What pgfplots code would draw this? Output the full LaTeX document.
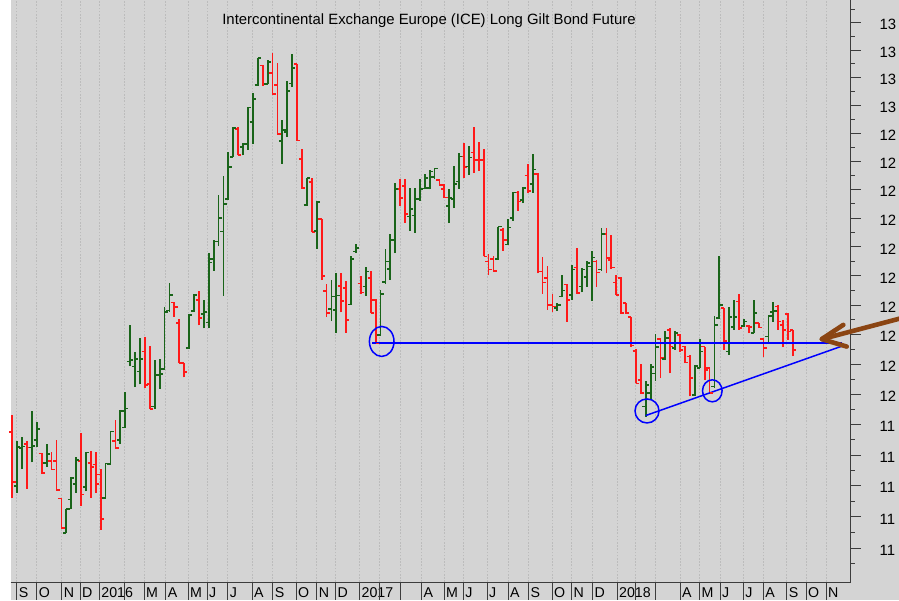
\documentclass[border=0pt]{standalone}
\usepackage{pgfplots}
\pgfplotsset{compat=1.18}
\usepackage{pgfplotstable}
\usepackage{fontspec}
\setmainfont{Liberation Sans}
\definecolor{bgc}{RGB}{212,212,212}
\definecolor{gridc}{RGB}{188,188,188}
\definecolor{upc}{RGB}{25,100,25}
\definecolor{dnc}{RGB}{255,25,25}
\definecolor{axc}{RGB}{60,60,60}
\definecolor{arrc}{RGB}{139,69,19}
\definecolor{lnc}{RGB}{0,0,255}
\pgfdeclareplotmark{ctick}{\pgfpathmoveto{\pgfqpoint{0pt}{0pt}}\pgfpathlineto{\pgfqpoint{3.2pt}{0pt}}\pgfusepathqstroke}
\pgfdeclareplotmark{otick}{\pgfpathmoveto{\pgfqpoint{-3.2pt}{0pt}}\pgfpathlineto{\pgfqpoint{0pt}{0pt}}\pgfusepathqstroke}

% weekly bars, red (close below open)
\pgfplotstableread{
i O H L C
1 118.75 119.32 116.62 117.13
4 118.36 118.46 116.90 118.25
7 118.05 118.07 117.39 117.41
9 117.81 118.10 117.52 117.53
10 117.81 118.51 116.86 116.87
11 116.59 116.61 115.63 115.64
15 117.81 118.72 116.35 116.72
17 117.74 118.14 116.62 117.62
18 117.69 118.10 116.78 117.06
19 117.37 117.54 115.58 115.94
22 118.46 119.16 118.20 118.23
28 121.43 121.93 120.22 120.32
29 120.35 121.61 119.51 119.51
34 123.09 123.11 122.61 122.93
35 122.39 122.53 121.04 121.04
36 121.04 121.06 120.57 120.75
39 123.18 123.49 122.32 122.56
47 129.14 129.21 128.21 128.22
52 131.44 131.45 130.70 130.75
54 131.16 131.90 130.37 130.40
55 130.72 131.54 128.96 128.97
59 131.48 131.49 128.72 128.73
60 128.07 128.43 127.03 127.05
62 127.26 127.41 125.51 125.52
64 125.96 125.97 123.86 123.99
65 123.49 123.72 122.61 122.73
68 123.66 124.09 122.75 123.15
69 123.58 123.83 122.07 122.50
72 123.74 124.00 123.38 123.43
74 123.92 124.17 122.72 122.73
75 123.18 123.20 121.71 121.71
80 127.01 127.36 126.43 126.70
81 127.13 127.36 125.84 126.14
88 127.34 127.36 127.13 127.16
89 127.01 127.20 126.70 126.72
93 128.16 128.64 127.40 127.79
95 128.30 129.23 127.58 128.05
96 128.05 128.68 127.66 128.02
97 128.05 128.43 124.67 124.67
98 124.49 124.76 124.03 124.21
99 124.59 124.69 124.15 124.17
101 125.59 125.64 124.87 125.24
104 126.89 126.95 126.25 126.58
106 127.49 127.89 126.87 126.96
108 127.55 127.58 124.09 124.15
109 124.15 124.64 123.39 123.77
110 123.92 124.34 122.84 123.01
111 123.00 123.38 122.75 122.95
114 123.70 123.72 122.44 123.18
116 124.29 124.95 123.39 123.41
120 124.49 124.55 123.63 124.11
122 125.44 125.67 124.09 124.61
123 124.55 125.42 124.23 124.29
124 123.77 124.04 123.34 123.35
125 123.94 123.96 122.71 122.73
126 123.07 123.09 122.71 122.73
127 122.59 122.61 121.60 121.63
128 121.45 121.52 120.37 120.37
129 120.48 121.02 120.02 120.04
133 121.86 121.88 120.54 121.21
135 122.16 122.22 120.70 121.60
137 121.99 122.02 121.43 121.49
138 121.60 121.62 121.04 121.06
139 121.26 121.32 119.93 120.54
142 121.60 121.60 120.48 120.82
143 120.87 120.89 120.02 120.04
146 122.90 122.92 121.49 121.79
149 123.12 123.38 122.16 122.22
151 122.30 122.33 122.05 122.25
153 122.39 122.39 122.22 122.24
154 121.86 121.86 121.24 121.55
157 122.95 122.99 122.16 122.44
158 122.33 122.50 121.58 122.16
159 122.71 122.73 121.82 122.11
160 122.16 122.16 121.28 121.49
}\dn

% weekly bars, green (close above open)
\pgfplotstableread{
i O H L C
2 117.00 118.47 116.78 118.26
3 118.23 118.59 117.54 118.28
5 118.25 119.45 117.76 118.31
6 118.50 119.09 118.25 118.86
8 117.74 118.37 117.63 118.04
12 115.49 116.26 115.48 116.25
13 116.56 117.28 116.24 117.25
14 117.06 117.93 116.78 117.84
16 116.96 118.10 116.82 118.08
20 116.61 117.75 116.59 117.72
21 117.71 118.78 117.68 118.77
23 118.50 119.49 118.37 119.46
24 118.90 120.07 118.89 119.53
25 121.09 122.31 120.94 121.15
26 120.93 121.43 120.24 121.18
27 120.76 121.88 120.33 121.18
30 119.60 121.15 119.51 120.63
31 120.65 121.19 120.19 120.68
32 120.85 122.93 120.84 122.76
33 122.82 123.75 122.78 123.35
37 121.56 122.69 121.53 122.67
38 122.80 123.38 122.78 123.35
40 122.71 123.18 122.21 122.78
41 122.41 124.78 122.21 124.46
42 124.58 125.24 124.18 125.18
43 125.18 126.80 125.03 126.00
44 125.53 127.46 123.33 126.50
45 126.66 128.33 126.64 127.79
46 128.15 129.21 128.14 129.19
48 128.50 128.64 128.21 128.61
49 128.61 129.92 128.40 129.91
50 129.39 130.43 128.60 130.21
51 130.72 131.72 130.70 131.71
53 130.76 131.63 130.75 131.55
56 128.72 129.47 127.90 129.11
57 129.04 130.86 128.87 130.52
58 130.79 131.85 130.65 131.35
61 126.45 127.41 126.43 127.40
63 125.56 126.59 124.94 126.57
66 122.88 123.86 122.46 123.29
67 122.84 124.11 122.07 123.32
70 123.03 124.69 123.01 124.58
71 124.84 125.10 124.80 124.96
73 123.63 124.30 123.32 124.15
76 121.99 123.52 121.97 123.39
77 123.80 124.94 123.72 124.49
78 124.23 125.45 123.86 125.24
79 125.24 127.22 124.78 127.01
82 126.05 127.07 125.56 126.32
83 126.09 127.05 125.48 126.66
84 126.66 127.36 126.61 127.01
85 127.03 127.54 127.01 127.40
86 127.05 127.69 127.01 127.63
87 127.45 127.75 127.36 127.73
90 126.43 127.01 125.82 126.70
91 126.66 127.83 126.35 127.20
92 127.28 128.28 127.02 128.16
94 127.81 128.54 127.52 128.13
100 124.58 125.70 124.55 125.70
102 125.08 125.97 125.06 125.67
103 126.01 126.93 125.91 126.89
105 126.64 127.10 126.52 127.05
107 127.20 128.25 126.89 127.70
112 122.90 123.07 122.81 123.01
113 123.29 124.03 123.27 123.50
115 123.35 124.37 123.18 124.21
117 123.63 124.28 123.43 124.21
118 123.96 124.52 123.63 124.44
119 124.32 124.86 123.14 124.63
121 124.21 125.67 124.18 125.44
130 119.60 120.45 119.27 120.32
131 120.04 121.02 119.82 120.91
132 120.70 122.02 120.45 121.58
134 121.19 122.14 121.15 121.88
136 121.55 122.14 121.49 122.05
140 119.97 120.98 119.95 120.95
141 120.87 121.85 120.87 121.43
144 120.26 122.64 120.21 122.33
145 122.56 124.69 122.53 123.01
147 121.43 122.95 121.32 122.59
148 122.27 123.18 122.16 122.59
150 122.30 122.54 122.25 122.44
152 122.05 123.18 122.05 122.73
155 121.94 122.64 121.71 122.64
156 122.78 123.10 122.44 122.80
}\up

\pgfplotstablegetrowsof{\dn}\pgfmathtruncatemacro\ndn{\pgfplotsretval-1}
\pgfplotstablegetrowsof{\up}\pgfmathtruncatemacro\nup{\pgfplotsretval-1}

\newcommand{\lfont}{\fontsize{14.9pt}{17pt}\selectfont}
\newcommand{\mfont}{\fontsize{14.2pt}{16pt}\selectfont}
\begin{document}
\begin{tikzpicture}
\path[use as bounding box] (-10.5pt,-18pt) rectangle (888.5pt,582pt);
\fill[bgc] (0.5pt,-18pt) rectangle (888.5pt,582pt);
\fill[white] (-10.5pt,-18pt) rectangle (0.5pt,582pt);
\begin{axis}[
  scale only axis, width=840pt, height=582pt,
  xmin=10.5, xmax=850.5, ymin=113.93, ymax=133.84,
  y coord trafo/.code={\pgfmathparse{ln(#1/100)}},
  y coord inv trafo/.code={\pgfmathparse{exp(#1)*100}},
  clip=false,
  axis x line*=bottom, axis y line*=right,
  x axis line style={draw=axc, line width=1pt, -},
  y axis line style={draw=axc, line width=1pt, -},
  xtick={16.7,36.7,61.7,80,99.3,124,144,165.7,188,207,227.7,252,272.7,296,316.7,335.5,359.5,379.5,400,421.5,444,463.3,487,508,528.5,552,571.5,592.5,617,635.5,655.7,680,699.5,720,743.3,763.3,786.7,806,826},
  xticklabels={}, xtick style={draw=none},
  xmajorgrids, major grid style={draw=gridc, line width=0.9pt, dash pattern=on 1.6pt off 1.6pt},
  ytick={115,116,...,133},
  yticklabels={},
  minor ytick={114.5,115.5,...,133.5},
  ytick style={draw=axc, line width=1pt},
  minor tick style={draw=axc, line width=1pt},
  tick align=outside, major tick length=10pt, minor tick length=4pt,
]
% high-low lines
\pgfplotsinvokeforeach{0,...,\ndn}{
  \pgfplotstablegetelem{#1}{i}\of\dn \pgfmathsetmacro\bx{12.3+4.91*(\pgfplotsretval-1)}
  \pgfplotstablegetelem{#1}{L}\of\dn \let\bl\pgfplotsretval
  \pgfplotstablegetelem{#1}{H}\of\dn \let\bh\pgfplotsretval
  \edef\cmd{\noexpand\addplot[dnc, line width=1.8pt, forget plot, mark=none] coordinates {(\bx,\bl) (\bx,\bh)};}
  \cmd
}
\pgfplotsinvokeforeach{0,...,\nup}{
  \pgfplotstablegetelem{#1}{i}\of\up \pgfmathsetmacro\bx{12.3+4.91*(\pgfplotsretval-1)}
  \pgfplotstablegetelem{#1}{L}\of\up \let\bl\pgfplotsretval
  \pgfplotstablegetelem{#1}{H}\of\up \let\bh\pgfplotsretval
  \edef\cmd{\noexpand\addplot[upc, line width=1.8pt, forget plot, mark=none] coordinates {(\bx,\bl) (\bx,\bh)};}
  \cmd
}
% open / close ticks
\addplot[dnc, only marks, mark=ctick, mark options={line width=1.6pt}]
  table[x expr={12.3+4.91*(\thisrow{i}-1)}, y=C] {\dn};
\addplot[dnc, only marks, mark=otick, mark options={line width=1.6pt}]
  table[x expr={12.3+4.91*(\thisrow{i}-1)}, y=O] {\dn};
\addplot[upc, only marks, mark=ctick, mark options={line width=1.6pt}]
  table[x expr={12.3+4.91*(\thisrow{i}-1)}, y=C] {\up};
\addplot[upc, only marks, mark=otick, mark options={line width=1.6pt}]
  table[x expr={12.3+4.91*(\thisrow{i}-1)}, y=O] {\up};

% right-hand price labels (cut by the chart edge, as in the source)
\pgfplotsinvokeforeach{115,116,117,118,119}{\node[anchor=west, inner sep=0pt, font=\lfont, xshift=29pt, yshift=-2pt] at (axis cs:850.5,#1) {11};}
\pgfplotsinvokeforeach{120,121,122,123,124,125,126,127,128,129}{\node[anchor=west, inner sep=0pt, font=\lfont, xshift=29pt, yshift=-2pt] at (axis cs:850.5,#1) {12};}
\pgfplotsinvokeforeach{130,131,132,133}{\node[anchor=west, inner sep=0pt, font=\lfont, xshift=29pt, yshift=-2pt] at (axis cs:850.5,#1) {13};}

\node[font=\lfont] at (axis cs:429,133.07) {Intercontinental Exchange Europe (ICE) Long Gilt Bond Future};

\draw[draw=lnc, line width=1.8pt] (axis cs:372,121.71) -- (axis cs:842,121.71);
\draw[draw=lnc, line width=1.5pt] (axis cs:645.7,119.30) -- (axis cs:843.3,121.63);
\draw[draw=lnc, line width=1.5pt] (axis cs:381.7,121.77) ellipse [x radius=12.3pt, y radius=15pt];
\draw[draw=lnc, line width=1.5pt] (axis cs:647,119.45) ellipse [x radius=12pt, y radius=12pt];
\draw[draw=lnc, line width=1.5pt] (axis cs:712.3,120.12) ellipse [x radius=9.8pt, y radius=11pt];

\draw[arrc, line width=4.6pt, line cap=round] (axis cs:905,122.59) -- (axis cs:822,121.85);
\draw[arrc, line width=4.6pt, line cap=round, line join=round] (axis cs:843.3,122.33) -- (axis cs:821.7,121.85) -- (axis cs:846.7,121.60);
\end{axis}
\foreach \p/\t in {16.7/S,36.7/O,61.7/N,80/D,99.3/2016,144/M,165.7/A,188/M,207/J,227.7/J,252/A,272.7/S,296/O,316.7/N,335.5/D,359.5/2017,421.5/A,444/M,463.3/J,487/J,508/A,528.5/S,552/O,571.5/N,592.5/D,617/2018,680/A,699.5/M,720/J,743.3/J,763.3/A,786.7/S,806/O,826/N}
  {\node[anchor=base west, inner sep=0pt, font=\mfont] at ({(\p-8.6)*1pt},-15.8pt) {\t};}
\foreach \p in {16.7,36.7,61.7,80,99.3,124,144,165.7,188,207,227.7,252,272.7,296,316.7,335.5,359.5,379.5,400,421.5,444,463.3,487,508,528.5,552,571.5,592.5,617,635.5,655.7,680,699.5,720,743.3,763.3,786.7,806,826}
  {\draw[axc, line width=0.9pt] ({(\p-10.5)*1pt},0pt) -- ({(\p-10.5)*1pt},-18pt);}
\end{tikzpicture}
\end{document}
